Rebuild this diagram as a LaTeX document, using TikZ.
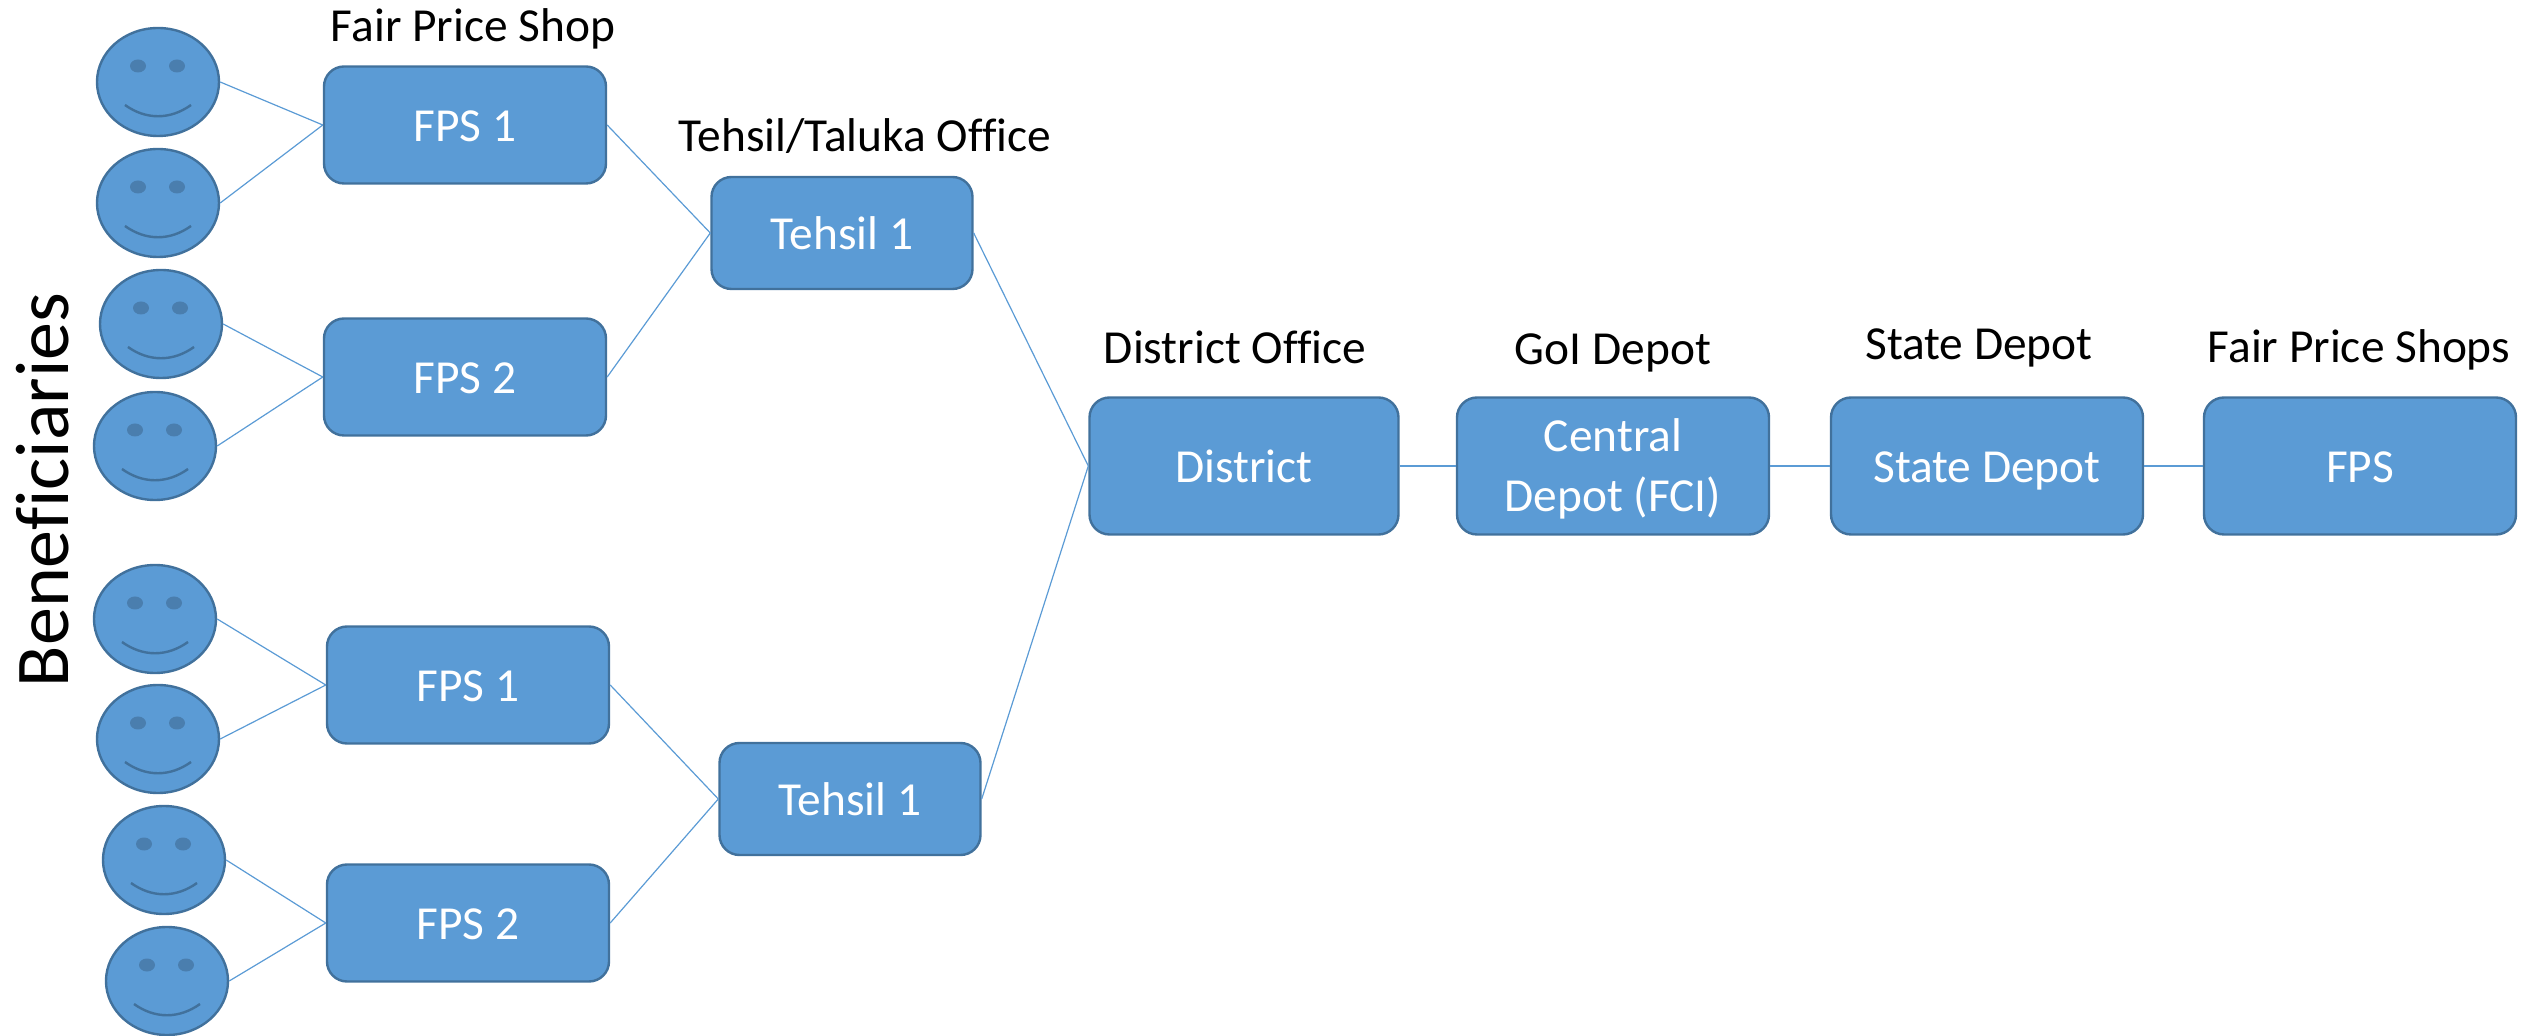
\documentclass[tikz,border=0pt]{standalone}
\usepackage{fontspec}
\setmainfont{Carlito}[Ligatures=NoCommon]
\usetikzlibrary{shapes.geometric}
\definecolor{boxblue}{HTML}{5B9BD5}
\definecolor{edgeblue}{HTML}{41719C}
\definecolor{eyeblue}{HTML}{4A7EAE}
\newcommand{\face}[3]{%
  % #1 name, #2 x, #3 y
  \node[facehead] (#1) at (#2,#3) {};
  \node[faceeye] (#1l) at ([shift={(-20,-16)}]#1.center) {};
  \node[faceeye] (#1r) at ([shift={(19,-16)}]#1.center) {};
  \draw[facesmile] ([shift={(-33,23)}]#1.center) .. controls ([shift={(-12,38)}]#1.center) and ([shift={(12,38)}]#1.center) .. ([shift={(33,23)}]#1.center);
}

\begin{document}
\begin{tikzpicture}[x=0.5pt,y=-0.5pt]

% nicer shape nodes
\tikzset{
  facehead/.style={draw=edgeblue, fill=boxblue, ellipse, line width=1.2pt, inner sep=0pt, minimum width=61pt, minimum height=54pt},
  faceeye/.style={draw=none, fill=eyeblue, ellipse, inner sep=0pt, minimum width=8pt, minimum height=6.5pt},
  facesmile/.style={draw=edgeblue, line width=1.2pt},
  office/.style={draw=edgeblue, fill=boxblue, rounded corners=10pt, line width=1.2pt, inner sep=0pt, text=white, align=center, font=\fontsize{23.7}{30}\selectfont},
  oneline/.style={text height=18pt, text depth=1.4pt},
  fpsbox/.style={office, oneline, minimum width=141pt, minimum height=58.5pt},
  tehsilbox/.style={office, oneline, minimum width=130.5pt, minimum height=56pt},
  depotbox/.style={office, minimum width=156pt, minimum height=68.5pt},
  heading/.style={font=\fontsize{23.7}{29}\selectfont, inner sep=0pt},
  link/.style={draw=boxblue, line width=0.6pt},
}

\useasboundingbox (0,0) rectangle (2522,1036);

% ---------------- Beneficiaries: ----------------
\node[heading, rotate=90, font=\fontsize{38}{46}\selectfont] (benef) at (43,490) {Beneficiaries};

\face{faceA}{158}{82}
\face{faceB}{158}{203}
\face{faceC}{161}{324}
\face{faceD}{155}{446}
\face{faceE}{155}{619}
\face{faceF}{158}{739}
\face{faceG}{164}{860}
\face{faceH}{167}{981}

% ---------------- Shops and offices: ----------------
\node[fpsbox] (fpsA) at (465,125) {FPS 1};
\node[fpsbox] (fpsB) at (465,377) {FPS 2};
\node[fpsbox] (fpsC) at (468,685) {FPS 1};
\node[fpsbox] (fpsD) at (468,923) {FPS 2};

\node[tehsilbox] (tehsilA) at (842,233) {Tehsil 1};
\node[tehsilbox] (tehsilB) at (850,799) {Tehsil 1};

\node[depotbox, oneline, minimum width=154.5pt] (district) at (1244,466) {District};
\node[depotbox] (central) at (1613,466) {\rule{0pt}{19pt}Central\\Depot (FCI)};
\node[depotbox, oneline] (state) at (1987,466) {State Depot};
\node[depotbox, oneline] (fps) at (2360,466) {FPS};

% ---------------- Headings: ----------------
\node[heading] (hshop) at (473,29) {Fair Price Shop};
\node[heading] (htehsil) at (865,136) {Tehsil/Taluka Office};
\node[heading] (hdistrict) at (1235,347) {District Office};
\node[heading] (hgoi) at (1613,353) {GoI Depot};
\node[heading] (hstate) at (1979,348) {State Depot};
\node[heading] (hfps) at (2359,350) {Fair Price Shops};

% ---------------- Links: ----------------
\draw[link] (faceA.east) -- (fpsA.west);
\draw[link] (faceB.east) -- (fpsA.west);
\draw[link] (faceC.east) -- (fpsB.west);
\draw[link] (faceD.east) -- (fpsB.west);
\draw[link] (faceE.east) -- (fpsC.west);
\draw[link] (faceF.east) -- (fpsC.west);
\draw[link] (faceG.east) -- (fpsD.west);
\draw[link] (faceH.east) -- (fpsD.west);
\draw[link] (fpsA.east) -- (tehsilA.west);
\draw[link] (fpsB.east) -- (tehsilA.west);
\draw[link] (fpsC.east) -- (tehsilB.west);
\draw[link] (fpsD.east) -- (tehsilB.west);
\draw[link] (tehsilA.east) -- (district.west);
\draw[link] (tehsilB.east) -- (district.west);
\draw[link] (district.east) -- (central.west);
\draw[link] (central.east) -- (state.west);
\draw[link] (state.east) -- (fps.west);

\end{tikzpicture}
\end{document}
